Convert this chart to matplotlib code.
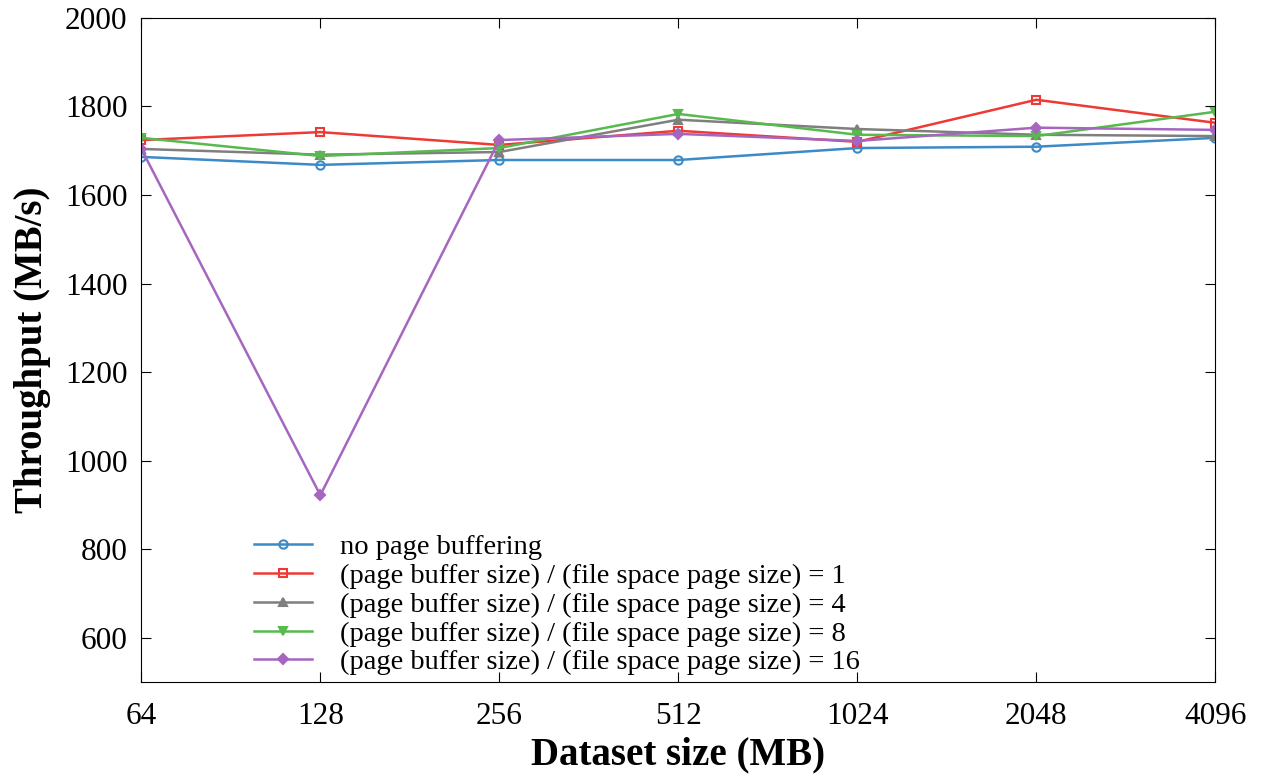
import numpy as np
import matplotlib
matplotlib.use("Agg")
import matplotlib.pyplot as plt

plt.rcParams['font.family'] = ['Liberation Serif', 'DejaVu Serif']

# data
sizes = ['64', '128', '256', '512', '1024', '2048', '4096']
no_buffer = [1686, 1668, 1679, 1679, 1706, 1709, 1729]
ratio_1 = [1724, 1742, 1713, 1745, 1720, 1815, 1763]
ratio_4 = [1704, 1691, 1697, 1770, 1749, 1736, 1733]
ratio_8 = [1729, 1688, 1706, 1783, 1736, 1733, 1788]
ratio_16 = [1704, 922, 1724, 1738, 1722, 1752, 1747]

labels = ['no page buffering',
          '(page buffer size) / (file space page size) = 1',
          '(page buffer size) / (file space page size) = 4',
          '(page buffer size) / (file space page size) = 8',
          '(page buffer size) / (file space page size) = 16']
series = [no_buffer, ratio_1, ratio_4, ratio_8, ratio_16]
colors = ['#3b8bc9', '#ee3a35', '#7f7f7f', '#57b94e', '#a666bf']
markers = ['o', 's', '^', 'v', 'D']
filled = [False, False, True, True, True]

fig, ax = plt.subplots(figsize=(12.62, 7.76), dpi=100)
fig.subplots_adjust(left=0.112, right=0.963, top=0.977, bottom=0.121)

x = np.arange(len(sizes))
for ys, lab, c, m, f in zip(series, labels, colors, markers, filled):
    ax.plot(x, ys, color=c, lw=1.8, marker=m,
            markersize=6 if m != 'D' else 5,
            markerfacecolor=c if f else 'none',
            markeredgecolor=c, markeredgewidth=1.5, label=lab)

ax.set_xlim(0, len(sizes) - 1)
ax.set_ylim(500, 2000)
ax.set_xticks(x)
ax.set_xticklabels(sizes)
ax.set_yticks(np.arange(600, 2001, 200))
ax.tick_params(direction='in', length=7, labelsize=22.5, top=True, right=True)
ax.tick_params(axis='x', pad=14)
ax.tick_params(axis='y', pad=10)

ax.set_xlabel('Dataset size (MB)', fontsize=28, fontweight='bold', labelpad=4)
ax.set_ylabel('Throughput (MB/s)', fontsize=28, fontweight='bold', labelpad=10)

ax.legend(loc='lower left', bbox_to_anchor=(0.086, -0.02), frameon=False,
          fontsize=20.5, handlelength=2.05, handletextpad=1.0,
          labelspacing=0.1, borderaxespad=0.3)

fig.savefig('out.png', dpi=100)
